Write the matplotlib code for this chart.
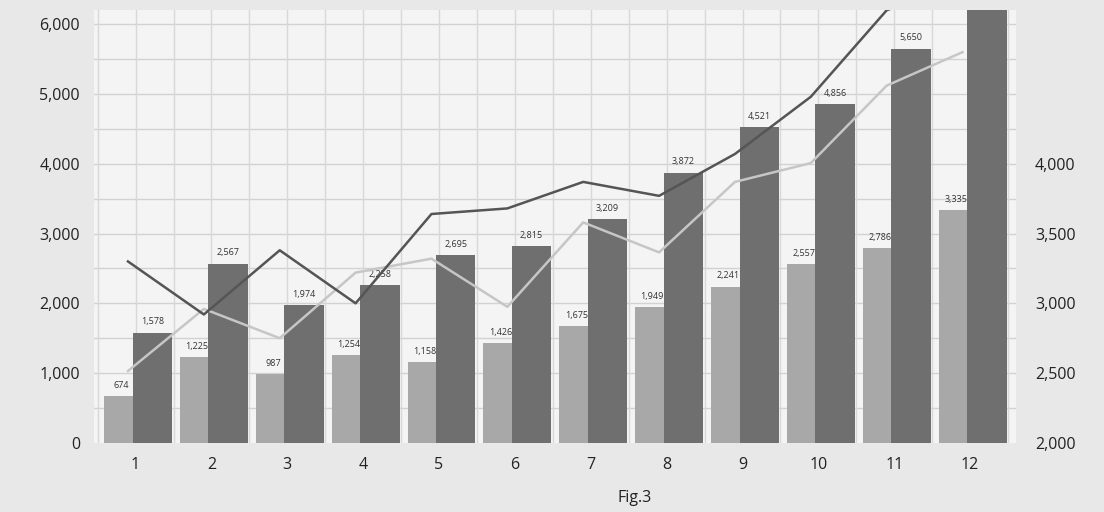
import numpy as np
from matplotlib import pyplot as plt

plt.rcParams["font.family"] = ["Open Sans", "DejaVu Sans"]

# monthly data (Fig.3)
months = [1, 2, 3, 4, 5, 6, 7, 8, 9, 10, 11, 12]
light_bars = [674, 1225, 987, 1254, 1158, 1426, 1675, 1949, 2241, 2557, 2786, 3335]
dark_bars = [1578, 2567, 1974, 2258, 2695, 2815, 3209, 3872, 4521, 4856, 5650, 6400]
# the two lines use the right hand axis
dark_line = [3300, 2920, 3380, 3000, 3640, 3680, 3870, 3770, 4070, 4480, 5100, 5300]
light_line = [2515, 2960, 2750, 3220, 3320, 2975, 3580, 3365, 3870, 4005, 4560, 4800]

left_ticks = [0, 1000, 2000, 3000, 4000, 5000, 6000]
right_ticks = [2000, 2500, 3000, 3500, 4000]

x = np.array(months)

fig = plt.figure(figsize=(11.04, 5.12), dpi=100)
fig.patch.set_facecolor("#e8e8e8")
ax = fig.add_axes([0.085, 0.135, 0.835, 0.845])
ax.set_facecolor("#f4f4f4")

# grid: every 500 horizontally, every half month vertically
for v in np.arange(500, 6500, 500):
    ax.axhline(v, color="#d2d2d2", linewidth=1, zorder=0)
for v in np.arange(0.5, 13.0, 0.5):
    ax.axvline(v, color="#d8d8d8", linewidth=1, zorder=0)

ax.bar(x - 0.19, light_bars, width=0.45, color="#a8a8a8", zorder=2)
ax.bar(x + 0.22, dark_bars, width=0.52, color="#6f6f6f", zorder=3)

for i in range(len(months)):
    ax.text(x[i] - 0.19, light_bars[i] + 90, f"{light_bars[i]:,}", ha="center",
            va="bottom", fontsize=6.5, color="#333333", zorder=4)
    if dark_bars[i] < 6000:
        ax.text(x[i] + 0.22, dark_bars[i] + 90, f"{dark_bars[i]:,}", ha="center",
                va="bottom", fontsize=6.5, color="#333333", zorder=4)

ax.set_xlim(0.45, 12.6)
ax.set_ylim(0, 6200)
ax.set_yticks(left_ticks)
ax.set_yticklabels([f"{t:,}" for t in left_ticks])
ax.set_xticks(x)
ax.set_xticklabels([str(m) for m in months])
ax.tick_params(axis="both", length=0, labelsize=11.5, labelcolor="#222222", pad=10)

ax2 = ax.twinx()
ax2.set_ylim(2000, 5100)
ax2.plot(x - 0.1, light_line, color="#c6c6c6", linewidth=1.8, zorder=5)
ax2.plot(x - 0.1, dark_line, color="#555555", linewidth=1.8, zorder=5)
ax2.set_yticks(right_ticks)
ax2.set_yticklabels([f"{t:,}" for t in right_ticks])
ax2.tick_params(axis="y", length=0, labelsize=11.5, labelcolor="#222222", pad=14)

for a in (ax, ax2):
    for s in a.spines.values():
        s.set_visible(False)

fig.text(0.575, 0.02, "Fig.3", fontsize=11.5, color="#222222", ha="center")

plt.savefig("out.png", dpi=100, facecolor=fig.get_facecolor())
